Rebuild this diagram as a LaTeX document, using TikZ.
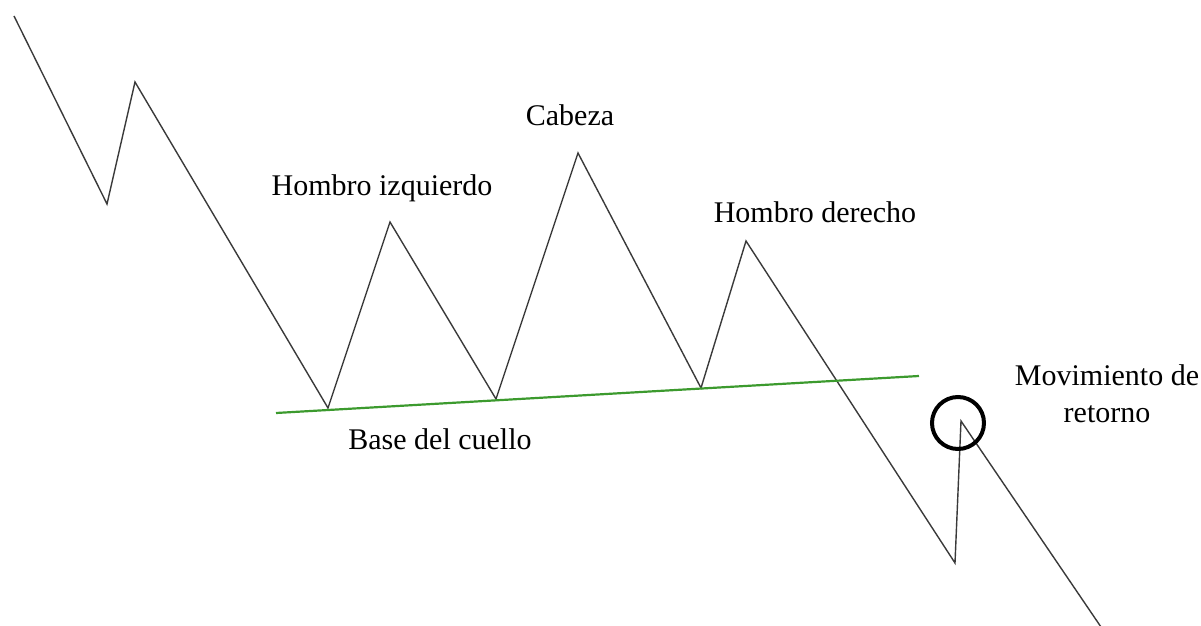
\documentclass[tikz,border=0pt]{standalone}
\usepackage{fontspec}
\setmainfont{Liberation Serif}
\usepackage{xcolor}
\definecolor{pricegray}{HTML}{3A3A3A}
\definecolor{neckgreen}{HTML}{3C9A2E}

\begin{document}
\begin{tikzpicture}[x=0.5pt,y=-0.5pt,
  price/.style={pricegray,line width=0.7pt,line join=miter},
  neck/.style={neckgreen,line width=1.1pt},
  tag/.style={anchor=base,inner sep=0pt,font=\fontsize{15}{18}\selectfont}]
\useasboundingbox (0,0) rectangle (1201,626);
% turning points of the price line
\coordinate (s0) at (14,16);
\coordinate (l0) at (107,204);
\coordinate (p0) at (135,82);
\coordinate (l1) at (328,408);
\coordinate (hi) at (390,222);
\coordinate (l2) at (496,399);
\coordinate (cab) at (578,153);
\coordinate (l3) at (701,388);
\coordinate (hd) at (746,241);
\coordinate (l4) at (955,563);
\coordinate (ret) at (961,421);
\coordinate (e0) at (1101,627);
\draw[price] (s0) -- (l0) -- (p0) -- (l1) -- (hi) -- (l2) -- (cab)
	-- (l3) -- (hd) -- (l4) -- (ret) -- (e0);
% neckline
\coordinate (n0) at (276,413);
\coordinate (n1) at (919,376);
\draw[neck] (n0) -- (n1);
\node[draw=black,line width=2pt,circle,minimum size=26pt,inner sep=0pt] (ring) at (958,423) {};
% labels
\node[tag] (tcab) at (570,126) {Cabeza};
\node[tag] (thi) at (382,196) {Hombro izquierdo};
\node[tag] (thd) at (815,223) {Hombro derecho};
\node[tag] (tbase) at (440,449) {Base del cuello};
\node[tag] (tmov) at (1107,385) {Movimiento de};
\node[tag] (tret) at (1107,422) {retorno};
\end{tikzpicture}
\end{document}
